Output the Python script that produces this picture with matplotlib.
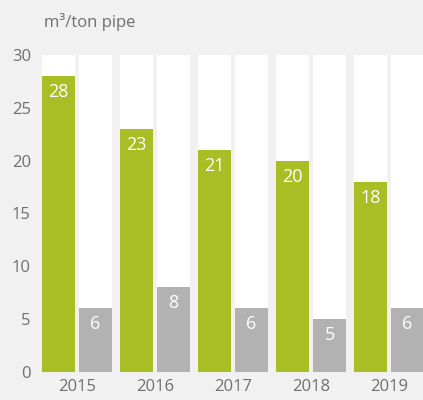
import matplotlib.pyplot as plt
import numpy as np

plt.rcParams['font.family'] = ['Open Sans', 'DejaVu Sans']

years = ['2015', '2016', '2017', '2018', '2019']
green_vals = [28, 23, 21, 20, 18]
gray_vals = [6, 8, 6, 5, 6]

bg = '#f1f1f1'
green = '#a9bd25'
gray = '#b2b2b2'
text_col = '#6f6f6f'

fig = plt.figure(figsize=(4.23, 4.0), dpi=100)
fig.patch.set_facecolor(bg)
ax = fig.add_axes([42 / 423, 0.0708, 381 / 423, 0.7917])
ax.set_facecolor(bg)

x = np.arange(len(years))
w = 33 / 78
off = 18.5 / 78

# white columns behind each bar, up to the top of the scale
ax.bar(x - off, [30] * len(years), width=w, color='white', zorder=1)
ax.bar(x + off, [30] * len(years), width=w, color='white', zorder=1)
ax.bar(x - off, green_vals, width=w, color=green, zorder=2)
ax.bar(x + off, gray_vals, width=w, color=gray, zorder=2)

for xi, v in zip(x - off, green_vals):
    ax.annotate(str(v), (xi, v), xytext=(0, -11.5), textcoords='offset points',
                ha='center', va='center', color='white', fontsize=13, zorder=3)
for xi, v in zip(x + off, gray_vals):
    ax.annotate(str(v), (xi, v), xytext=(0, -11.5), textcoords='offset points',
                ha='center', va='center', color='white', fontsize=13, zorder=3)

ax.set_xlim(-0.449, 4.436)
ax.set_ylim(0, 30)
ax.set_yticks([0, 5, 10, 15, 20, 25, 30])
ax.set_xticks(x)
ax.set_xticklabels(years)
ax.tick_params(axis='both', length=0, labelsize=12, colors=text_col)
ax.tick_params(axis='y', pad=8)
ax.tick_params(axis='x', pad=5)
for s in ax.spines.values():
    s.set_visible(False)

fig.text(44 / 423, 1 - 22 / 400, 'm³/ton pipe', ha='left', va='center',
         fontsize=12, color=text_col)

fig.savefig('out.png', dpi=100, facecolor=bg)
